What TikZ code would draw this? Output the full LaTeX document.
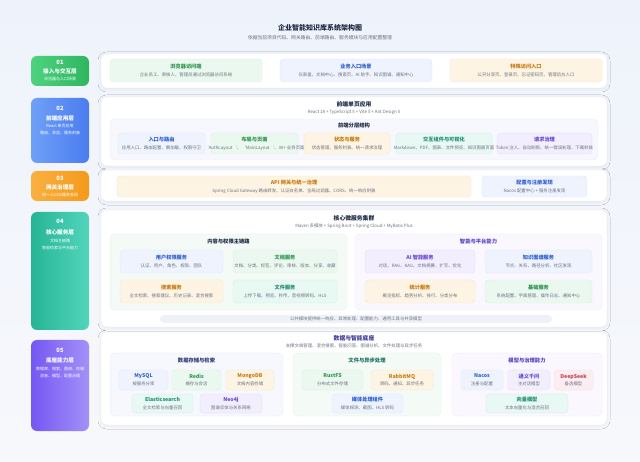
\documentclass[tikz,border=0pt]{standalone}
\usepackage{fontspec}
\setmainfont{Noto Sans CJK SC}
\usetikzlibrary{shadows.blur}
\definecolor{bgtop}{HTML}{EEF3FB}
\definecolor{bgbot}{HTML}{F7F8FC}
\definecolor{navy}{HTML}{1F2A44}
\definecolor{subc}{HTML}{6B7280}
\definecolor{panelD}{HTML}{ECEFF5}
\definecolor{blueF}{HTML}{EEF3FE}\definecolor{blueD}{HTML}{DFE7FA}\definecolor{blueT}{HTML}{2F5FD0}
\definecolor{greenF}{HTML}{EBF8EF}\definecolor{greenD}{HTML}{D7EFDF}\definecolor{greenT}{HTML}{2E9550}
\definecolor{orangeF}{HTML}{FDF4E4}\definecolor{orangeD}{HTML}{F7E5C6}\definecolor{orangeT}{HTML}{C77A12}
\definecolor{tealF}{HTML}{E8F8F3}\definecolor{tealD}{HTML}{D2EFE6}\definecolor{tealT}{HTML}{1E8C74}
\definecolor{purpleF}{HTML}{F2EEFD}\definecolor{purpleD}{HTML}{E4DDFA}\definecolor{purpleT}{HTML}{6547D1}
\definecolor{pinkF}{HTML}{FCEEF0}\definecolor{pinkD}{HTML}{F6DADF}\definecolor{pinkT}{HTML}{C23B57}
\definecolor{cblueF}{HTML}{F6F8FE}\definecolor{cblueD}{HTML}{E8ECF7}
\definecolor{cgreenF}{HTML}{F4FBF7}\definecolor{cgreenD}{HTML}{E2F1E8}
\definecolor{cpurpleF}{HTML}{FAF7FF}\definecolor{cpurpleD}{HTML}{EEE8FB}
\definecolor{pillF}{HTML}{EEF2F8}
\definecolor{labBlue}{HTML}{2E3A6E}
\definecolor{labTeal}{HTML}{1F6F5A}
\definecolor{labPurple}{HTML}{5A3FC0}
\definecolor{indigoT}{HTML}{3D3A9B}
\definecolor{g1a}{HTML}{4ED27F}\definecolor{g1b}{HTML}{2FB65F}
\definecolor{g2a}{HTML}{6FA0F7}\definecolor{g2b}{HTML}{4A7CF0}
\definecolor{g3a}{HTML}{F9B040}\definecolor{g3b}{HTML}{F59A1B}
\definecolor{g4a}{HTML}{26B596}\definecolor{g4b}{HTML}{52D5BA}
\definecolor{g5a}{HTML}{7557F3}\definecolor{g5b}{HTML}{A391F8}
\newcommand\fsz[2]{\fontsize{#1}{#2}\selectfont}
\newcommand\bxtext[3]{{\bfseries\color{#1}\makebox[0pt]{#2}}\\{\fsz{4.4}{7.8}\color{subc}\makebox[0pt]{#3}}}
\newcommand\bx[8]{\node[bx=#6, minimum width=#4pt, minimum height=#5pt] (#1) at (#2,#3) {\bxtext{#6T}{#7}{#8}};}
\tikzset{
  panel/.style={fill=white, draw=panelD, rounded corners=6pt, line width=0.4pt, inner sep=0pt,
    blur shadow={shadow blur steps=6, shadow xshift=0pt, shadow yshift=-1pt, shadow opacity=6, shadow blur radius=3pt}},
  badge/.style={rounded corners=6pt, inner sep=0pt, draw=none, shading angle=135},
  cont/.style={rounded corners=5pt, inner sep=0pt, line width=0.35pt, fill=c#1F, draw=c#1D},
  bx/.style={rounded corners=3.5pt, fill=#1F, draw=#1D, line width=0.35pt, inner sep=0pt, align=center, font=\fsz{5.2}{7.8}},
  ptitle/.style={font=\fsz{5.8}{6}\bfseries, text=navy, inner sep=0pt},
  psub/.style={font=\fsz{4.4}{5}, text=subc, inner sep=0pt},
  clabel/.style={font=\fsz{5.3}{6}\bfseries, text=navy, inner sep=0pt},
  bnum/.style={font=\fsz{5.8}{6}\bfseries, text=white, inner sep=0pt},
  bname/.style={font=\fsz{5.6}{6}\bfseries, text=white, inner sep=0pt},
  bdesc/.style={font=\fsz{4}{7}, text=white, align=center, inner sep=0pt},
  pill/.style={fill=pillF, rounded corners=4pt, inner sep=0pt, font=\fsz{4.4}{5}, text=subc}
}
\begin{document}
\begin{tikzpicture}[x=1pt,y=-1pt]
\useasboundingbox (0,0) rectangle (640,462);
\shade[top color=bgtop, bottom color=bgbot] (0,0) rectangle (640,462);

% title
\node[font=\fsz{7}{8}\bfseries, text=navy, inner sep=0pt] (title) at (320,28) {企业智能知识库系统架构图};
\node[font=\fsz{4.8}{5}, text=subc, inner sep=0pt] (subtitle) at (320,37.5) {依据当前项目代码、网关路由、前端路由、服务模块与应用配置整理};

% ---------- badges ----------
\node[badge, left color=g1a, right color=g1b, minimum width=58pt, minimum height=30pt] (bg1) at (60,71) {};
\node[bnum] (bg1n) at (60,62) {01};
\node[bname] (bg1t) at (60,71) {接入与交互层};
\node[bdesc] (bg1d) at (60,79) {浏览器与入口场景};

\node[badge, left color=g2a, right color=g2b, minimum width=58pt, minimum height=65pt] (bg2) at (60,130.5) {};
\node[bnum] (bg2n) at (60,108) {02};
\node[bname] (bg2t) at (60,118) {前端应用层};
\node[bdesc] (bg2d) at (60,129.5) {React 单页应用\\路由、状态、服务封装};

\node[badge, left color=g3a, right color=g3b, minimum width=58pt, minimum height=30pt] (bg3) at (60,186) {};
\node[bnum] (bg3n) at (60,178) {03};
\node[bname] (bg3t) at (60,187) {网关治理层};
\node[bdesc] (bg3d) at (60,195) {统一入口与服务发现};

\node[badge, left color=g4a, right color=g4b, minimum width=58pt, minimum height=118pt] (bg4) at (60,271) {};
\node[bnum] (bg4n) at (60,221) {04};
\node[bname] (bg4t) at (60,232) {核心服务层};
\node[bdesc] (bg4d) at (60,244) {文档主链路\\智能检索与平台能力};

\node[badge, left color=g5a, right color=g5b, minimum width=58pt, minimum height=91pt] (bg5) at (60,385.5) {};
\node[bnum] (bg5n) at (60,350) {05};
\node[bname] (bg5t) at (60,360) {底座能力层};
\node[bdesc] (bg5d) at (60,372.5) {数据库、搜索、图谱、存储\\消息、模型、配置治理};

% ---------- row 1 ----------
\node[panel, minimum width=506pt, minimum height=34pt] (p1) at (354,71) {};
\bx{r1a}{186}{70.5}{152}{23}{green}{浏览器访问端}{企业员工、审核人、管理员通过浏览器访问系统}
\bx{r1b}{356}{70.5}{152}{23}{blue}{业务入口场景}{仪表盘、文档中心、搜索页、AI 助手、知识图谱、通知中心}
\bx{r1c}{526}{70.5}{152}{23}{orange}{特殊访问入口}{公开分享页、登录页、忘记密码页、管理后台入口}

% ---------- row 2 ----------
\node[panel, minimum width=506pt, minimum height=69pt] (p2) at (354,131.5) {};
\node[ptitle] (p2t) at (354,104) {前端单页应用};
\node[psub] (p2s) at (354,112) {React 18 + TypeScript 5 + Vite 5 + Ant Design 5};
\node[cont=blue, minimum width=488pt, minimum height=41pt] (c2) at (354,139.5) {};
\node[clabel] (c2l) at (354,126) {前端分层结构};
\bx{r2a}{161.5}{143.5}{87}{21}{blue}{入口与路由}{应用入口、路由配置、懒加载、权限守卫}
\bx{r2b}{254.5}{143.5}{87}{21}{green}{布局与页面}{`AuthLayout`、`MainLayout`、30+ 业务页面}
\bx{r2c}{347}{143.5}{86}{21}{orange}{状态与服务}{状态管理、服务封装、统一请求治理}
\bx{r2d}{444}{143.5}{96}{21}{teal}{交互组件与可视化}{Markdown、PDF、图表、文件预览、知识图谱页面}
\bx{r2e}{544.5}{143.5}{95}{21}{purple}{请求治理}{Token 注入、自动刷新、统一错误处理、下载封装}

% ---------- row 3 ----------
\node[panel, minimum width=506pt, minimum height=31pt] (p3) at (354,185.5) {};
\bx{r3a}{294}{186.5}{354}{21}{orange}{API 网关与统一治理}{Spring Cloud Gateway 路由转发、认证白名单、全局过滤器、CORS、统一响应封装}
\bx{r3b}{534.5}{186.5}{105}{21}{blue}{配置与注册发现}{Nacos 配置中心 + 服务注册发现}

% ---------- row 4 ----------
\node[panel, minimum width=506pt, minimum height=117pt] (p4) at (354,268.5) {};
\node[ptitle] (p4t) at (354,218) {核心微服务集群};
\node[psub] (p4s) at (354,226) {Maven 多模块 + Spring Boot + Spring Cloud + MyBatis Plus};
\node[cont=green, minimum width=237pt, minimum height=76pt] (c4a) at (228.5,272) {};
\node[clabel] (c4al) at (228.5,241) {内容与权限主链路};
\node[cont=purple, minimum width=247pt, minimum height=76pt] (c4b) at (478.5,272) {};
\node[clabel, text=labPurple] (c4bl) at (478.5,241) {智能与平台能力};
\bx{r4a}{171.5}{261.5}{103}{23}{blue}{用户权限服务}{认证、用户、角色、权限、团队}
\bx{r4b}{285}{261.5}{104}{23}{green}{文档服务}{文档、分类、标签、评论、审核、版本、分享、收藏}
\bx{r4c}{171.5}{291.5}{103}{23}{orange}{搜索服务}{全文检索、搜索建议、历史记录、混合搜索}
\bx{r4d}{285}{291.5}{104}{23}{teal}{文件服务}{上传下载、预览、秒传、音视频转码、HLS}
\bx{r4e}{420}{261.5}{110}{23}{purple}{AI 智能服务}{对话、RAG、KAG、文档摘要、扩写、优化}
\bx{r4f}{538.5}{261.5}{107}{23}{blue}{知识图谱服务}{节点、关系、路径分析、社区发现}
\bx{r4g}{420}{291.5}{110}{23}{orange}{统计服务}{概览指标、趋势分析、排行、分类分布}
\bx{r4h}{538.5}{291.5}{107}{23}{green}{基础服务}{系统配置、字典管理、操作日志、通知中心}
\node[pill, minimum width=392pt, minimum height=8pt] (pill) at (356,319) {公共模块提供统一响应、异常处理、配置能力、通用工具与共享模型};

% ---------- row 5 ----------
\node[panel, minimum width=506pt, minimum height=93pt] (p5) at (354,378.5) {};
\node[ptitle, text=indigoT] (p5t) at (354,338) {数据与智能底座};
\node[psub] (p5s) at (354,346) {支撑文档管理、混合搜索、智能问答、图谱分析、文件处理与异步任务};
\node[cont=blue, minimum width=173pt, minimum height=63pt] (c5a) at (196.5,384.5) {};
\node[clabel, text=labBlue] (c5al) at (196.5,360) {数据存储与检索};
\node[cont=green, minimum width=148pt, minimum height=63pt] (c5b) at (367,384.5) {};
\node[clabel, text=labTeal] (c5bl) at (367,360) {文件与异步处理};
\node[cont=purple, minimum width=150pt, minimum height=63pt] (c5c) at (527,384.5) {};
\node[clabel, text=labPurple] (c5cl) at (527,360) {模型与治理能力};
\bx{s1}{143.5}{380}{49}{20}{blue}{MySQL}{按服务分库}
\bx{s2}{196.5}{380}{49}{20}{green}{Redis}{缓存与会话}
\bx{s3}{250}{380}{48}{20}{orange}{MongoDB}{文档内容存储}
\bx{s4}{162.5}{403.5}{61}{19}{teal}{Elasticsearch}{全文检索与向量召回}
\bx{s5}{231}{403.5}{62}{19}{purple}{Neo4j}{图谱实体与关系网络}
\bx{f1}{332.5}{380}{61}{20}{green}{RustFS}{分布式文件存储}
\bx{f2}{402}{380}{62}{20}{orange}{RabbitMQ}{转码、通知、异步任务}
\bx{f3}{367.5}{403.5}{71}{19}{blue}{媒体处理组件}{媒体探测、截图、HLS 转码}
\bx{m1}{482}{380}{42}{20}{blue}{Nacos}{注册与配置}
\bx{m2}{529}{380}{42}{20}{purple}{通义千问}{主对话模型}
\bx{m3}{573.5}{380}{39}{20}{pink}{DeepSeek}{备选模型}
\bx{m4}{527}{403.5}{82}{19}{teal}{向量模型}{文本向量化与混合召回}
\end{tikzpicture}
\end{document}
